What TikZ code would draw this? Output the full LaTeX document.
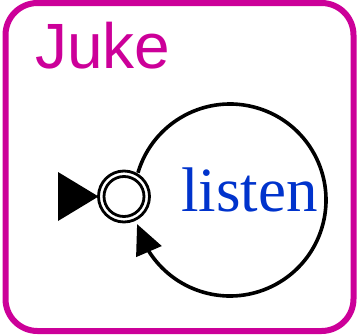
\documentclass[tikz,border=0pt]{standalone}
\usepackage{fontspec}
\setmainfont{Liberation Serif}
\newfontfamily\jukefont{Liberation Sans}
\usetikzlibrary{arrows.meta,bending,calc}
\definecolor{framemag}{RGB}{204,0,153}
\definecolor{listenblue}{RGB}{0,51,204}
\tikzset{
  frame/.style={draw=framemag, line width=6pt, rounded corners=32pt},
  statecirc/.style={circle, draw=black, line width=2.8pt, minimum size=51pt, inner sep=0pt, outer sep=0pt, fill=white},
  looparc/.style={draw=black, line width=3.6pt, -{Triangle[length=30pt,width=27pt]}},
  inittri/.style={fill=black}
}
\begin{document}
\begin{tikzpicture}[x=1pt,y=-1pt]
\useasboundingbox (0,0) rectangle (359,335);
\draw[frame] (5.5,3) rectangle (353.5,331);
\node[anchor=base west, inner sep=0pt, text=framemag] (title) at (35,68) {\jukefont\fontsize{64}{64}\selectfont Juke};
\coordinate (lc) at (230,200);
\node[statecirc] (s) at (124,196.5) {};
\draw[line width=2.8pt] (s.center) circle[radius=20];
\coordinate (init) at (58,196.5);
\fill[inittri] (s.west) -- ($(init)+(0,-24.5)$) -- ($(init)+(0,24.5)$) -- cycle;
\draw[looparc] ($(lc)+(196.5:96)$) arc[start angle=196.5, end angle=525.5, radius=96];
\node[anchor=base west, inner sep=0pt, text=listenblue] (lbl) at (180.8,211.5) {\fontsize{63}{63}\selectfont listen};
\end{tikzpicture}
\end{document}
